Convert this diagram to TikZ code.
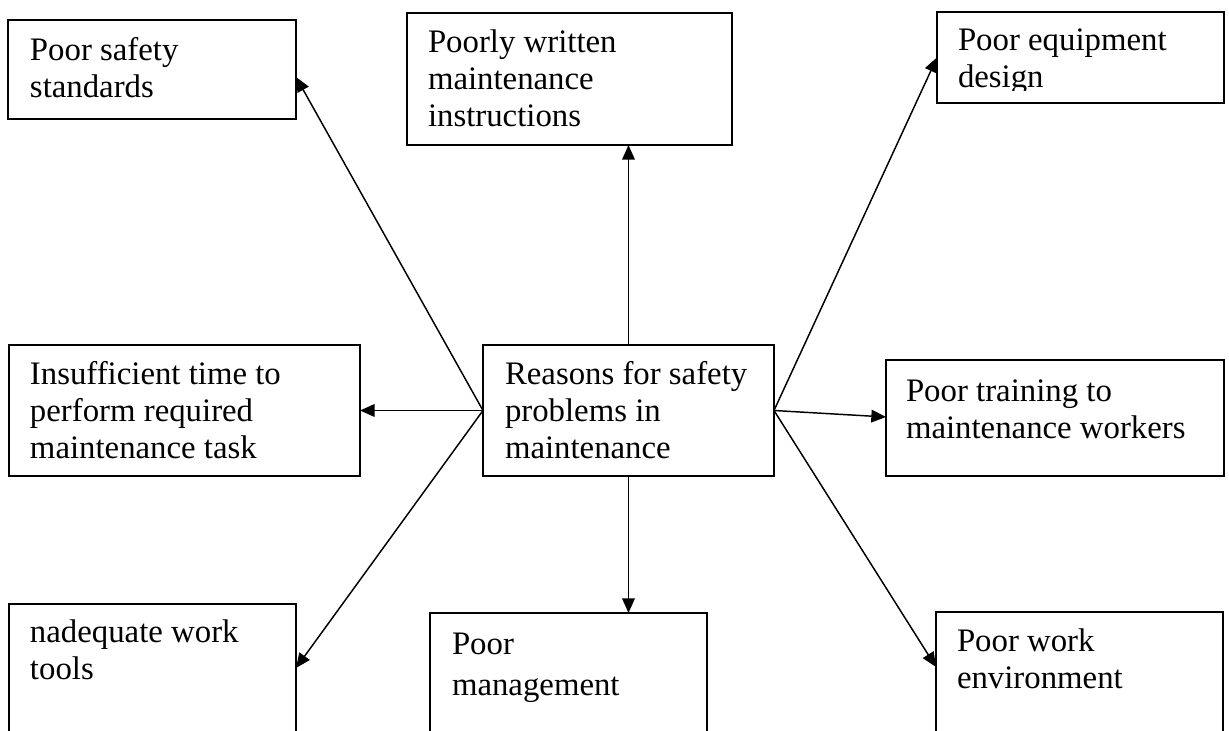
\documentclass[tikz,border=0pt]{standalone}
\usepackage{fontspec}
\setmainfont{Liberation Serif}
\usetikzlibrary{arrows.meta,calc}

\begin{document}
\begin{tikzpicture}[x=0.75pt,y=-0.75pt,
  box/.style={draw=black,line width=1.1pt,inner sep=0pt,outer sep=0pt,fill=none},
  label/.style={anchor=base west,align=left,inner sep=0pt,outer sep=0pt,
    font=\fontsize{24.6}{27.75}\selectfont},
  link/.style={line width=1.1pt,-{Triangle[length=11pt,width=9.5pt]}}]
  \clip (0,0) rectangle (1229,731);

  % boxes (centre, width, height in px)
  \node[box,minimum width=288*0.75pt,minimum height=99*0.75pt] (safety) at (152,69.5) {};
  \node[box,minimum width=325*0.75pt,minimum height=132*0.75pt] (instr) at (569.5,79) {};
  \node[box,minimum width=287*0.75pt,minimum height=91*0.75pt] (equip) at (1080.5,57.5) {};
  \node[box,minimum width=351*0.75pt,minimum height=131*0.75pt] (time) at (184.5,410.5) {};
  \node[box,minimum width=291*0.75pt,minimum height=131*0.75pt] (reasons) at (628.5,410.5) {};
  \node[box,minimum width=338*0.75pt,minimum height=116*0.75pt] (training) at (1055,418) {};
  \node[box,minimum width=287*0.75pt,minimum height=128*0.75pt] (tools) at (152.5,668) {};
  \node[box,minimum width=277*0.75pt,minimum height=160*0.75pt] (mgmt) at (568.5,693) {};
  \node[box,minimum width=287*0.75pt,minimum height=160*0.75pt] (env) at (1079.5,692) {};

  % texts, placed by the baseline of their last line
  \node[label] (tsafety) at (30,98) {Poor safety\\standards};
  \node[label] (tinstr) at (428,127) {Poorly written\\maintenance\\instructions};
  \begin{scope}
    \clip (937,12) rectangle (1224,91);
    \node[label] (tequip) at (958,88) {Poor equipment\\design};
  \end{scope}
  \node[label] (ttime) at (30,458) {Insufficient time to\\perform required\\maintenance task};
  \node[label] (treasons) at (505,458) {Reasons for safety\\problems in\\maintenance};
  \node[label] (ttraining) at (906,438) {Poor training to\\maintenance workers};
  \node[label] (ttools) at (30,679) {nadequate work\\tools};
  \node[label] (tmgmt) at (452,695) {Poor\\[3pt]management};
  \node[label] (tenv) at (957,688) {Poor work\\environment};

  % connectors
  \draw[link] (reasons.west) -- ($(safety.north east)+(0,57)$);
  \draw[link] (reasons.north) -- (reasons.north |- instr.south);
  \draw[link] (reasons.east) -- (equip.west);
  \draw[link] (reasons.west) -- (time.east);
  \draw[link] (reasons.east) -- ($(training.north west)+(0,57)$);
  \draw[link] (reasons.west) -- (tools.east);
  \draw[link] (reasons.south) -- (reasons.south |- mgmt.north);
  \draw[link] (reasons.east) -- ($(env.north west)+(0,55)$);
\end{tikzpicture}
\end{document}
